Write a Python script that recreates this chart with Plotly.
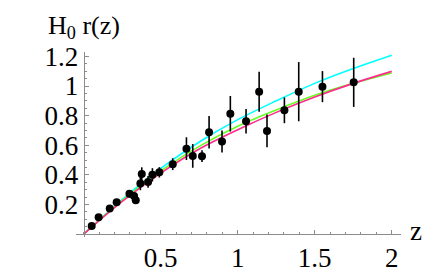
import plotly.graph_objects as go

# measured points: redshift, H0 r(z), 1-sigma error
z_data = [0.052, 0.097, 0.169, 0.214, 0.297, 0.327, 0.338, 0.368, 0.377, 0.418,
          0.446, 0.491, 0.578, 0.667, 0.708, 0.768, 0.814, 0.898, 0.952, 1.054,
          1.139, 1.190, 1.303, 1.396, 1.550, 1.753]
r_data = [0.055, 0.114, 0.173, 0.215, 0.272, 0.257, 0.229, 0.341, 0.406, 0.352,
          0.400, 0.417, 0.472, 0.577, 0.528, 0.526, 0.688, 0.625, 0.813, 0.762,
          0.962, 0.697, 0.836, 0.962, 0.996, 1.025]
r_err = [0.008, 0.008, 0.008, 0.008, 0.025, 0.02, 0.025, 0.045, 0.045, 0.04,
         0.045, 0.035, 0.04, 0.077, 0.08, 0.04, 0.11, 0.074, 0.12, 0.083,
         0.135, 0.11, 0.087, 0.2, 0.105, 0.166]

# model curves
z_model = [0, 0.25, 0.5, 0.75, 1.0, 1.25, 1.5, 1.75, 2.0]
r_cyan = [0, 0.233, 0.443, 0.622, 0.773, 0.900, 1.018, 1.118, 1.208]
r_green = [0, 0.228, 0.425, 0.592, 0.728, 0.838, 0.937, 1.018, 1.088]
r_magenta = [0, 0.221, 0.412, 0.575, 0.705, 0.822, 0.926, 1.018, 1.099]

x_tickvals = [0.5, 1, 1.5, 2]
x_ticktext = ["0.5", "1", "1.5", "2"]
y_tickvals = [0.2, 0.4, 0.6, 0.8, 1.0, 1.2]
y_ticktext = ["0.2", "0.4", "0.6", "0.8", "1", "1.2"]

FONT = "Liberation Serif, Times New Roman, serif"
AXIS_GREY = "#8c8c8c"

fig = go.Figure()

for vals, col in [(r_cyan, "#00ffff"), (r_green, "#66ff22"), (r_magenta, "#ff2a8c")]:
    fig.add_trace(go.Scatter(x=z_model, y=vals, mode="lines", line_shape="spline",
                             line=dict(color=col, width=1.6), hoverinfo="skip"))

fig.add_trace(go.Scatter(
    x=z_data, y=r_data, mode="markers",
    marker=dict(color="black", size=8),
    error_y=dict(type="data", array=r_err, color="black", thickness=1.6, width=0),
))

fig.update_xaxes(range=[-0.05, 2.06], anchor="free", position=0.016,
                 showline=True, linecolor=AXIS_GREY, linewidth=1,
                 showgrid=False, zeroline=False,
                 tickmode="array", tickvals=x_tickvals, ticktext=x_ticktext,
                 ticks="inside", ticklen=4, tickcolor=AXIS_GREY,
                 minor=dict(tickmode="linear", tick0=0, dtick=0.1, ticks="inside",
                            ticklen=2, tickcolor=AXIS_GREY),
                 tickfont=dict(family=FONT, size=27, color="black"))
fig.update_yaxes(range=[-0.02, 1.23], anchor="free", position=0.0237,
                 showline=True, linecolor=AXIS_GREY, linewidth=1,
                 showgrid=False, zeroline=False,
                 tickmode="array", tickvals=y_tickvals, ticktext=y_ticktext,
                 ticks="inside", ticklen=4, tickcolor=AXIS_GREY,
                 minor=dict(tickmode="linear", tick0=0, dtick=0.05, ticks="inside",
                            ticklen=2, tickcolor=AXIS_GREY),
                 tickfont=dict(family=FONT, size=27, color="black"))

fig.add_annotation(text="H<sub>0</sub> r(z)", xref="paper", yref="paper",
                   x=-0.093, y=1.136, xanchor="left", yanchor="middle",
                   showarrow=False, font=dict(family=FONT, size=26, color="black"))
fig.add_annotation(text="z", xref="paper", yref="paper",
                   x=1.046, y=0.03, xanchor="center", yanchor="middle",
                   showarrow=False, font=dict(family=FONT, size=27, color="black"))

fig.update_layout(width=448, height=277, showlegend=False,
                  margin=dict(l=68, r=55, t=44, b=35),
                  plot_bgcolor="white", paper_bgcolor="white")

fig.write_html("out.html")
